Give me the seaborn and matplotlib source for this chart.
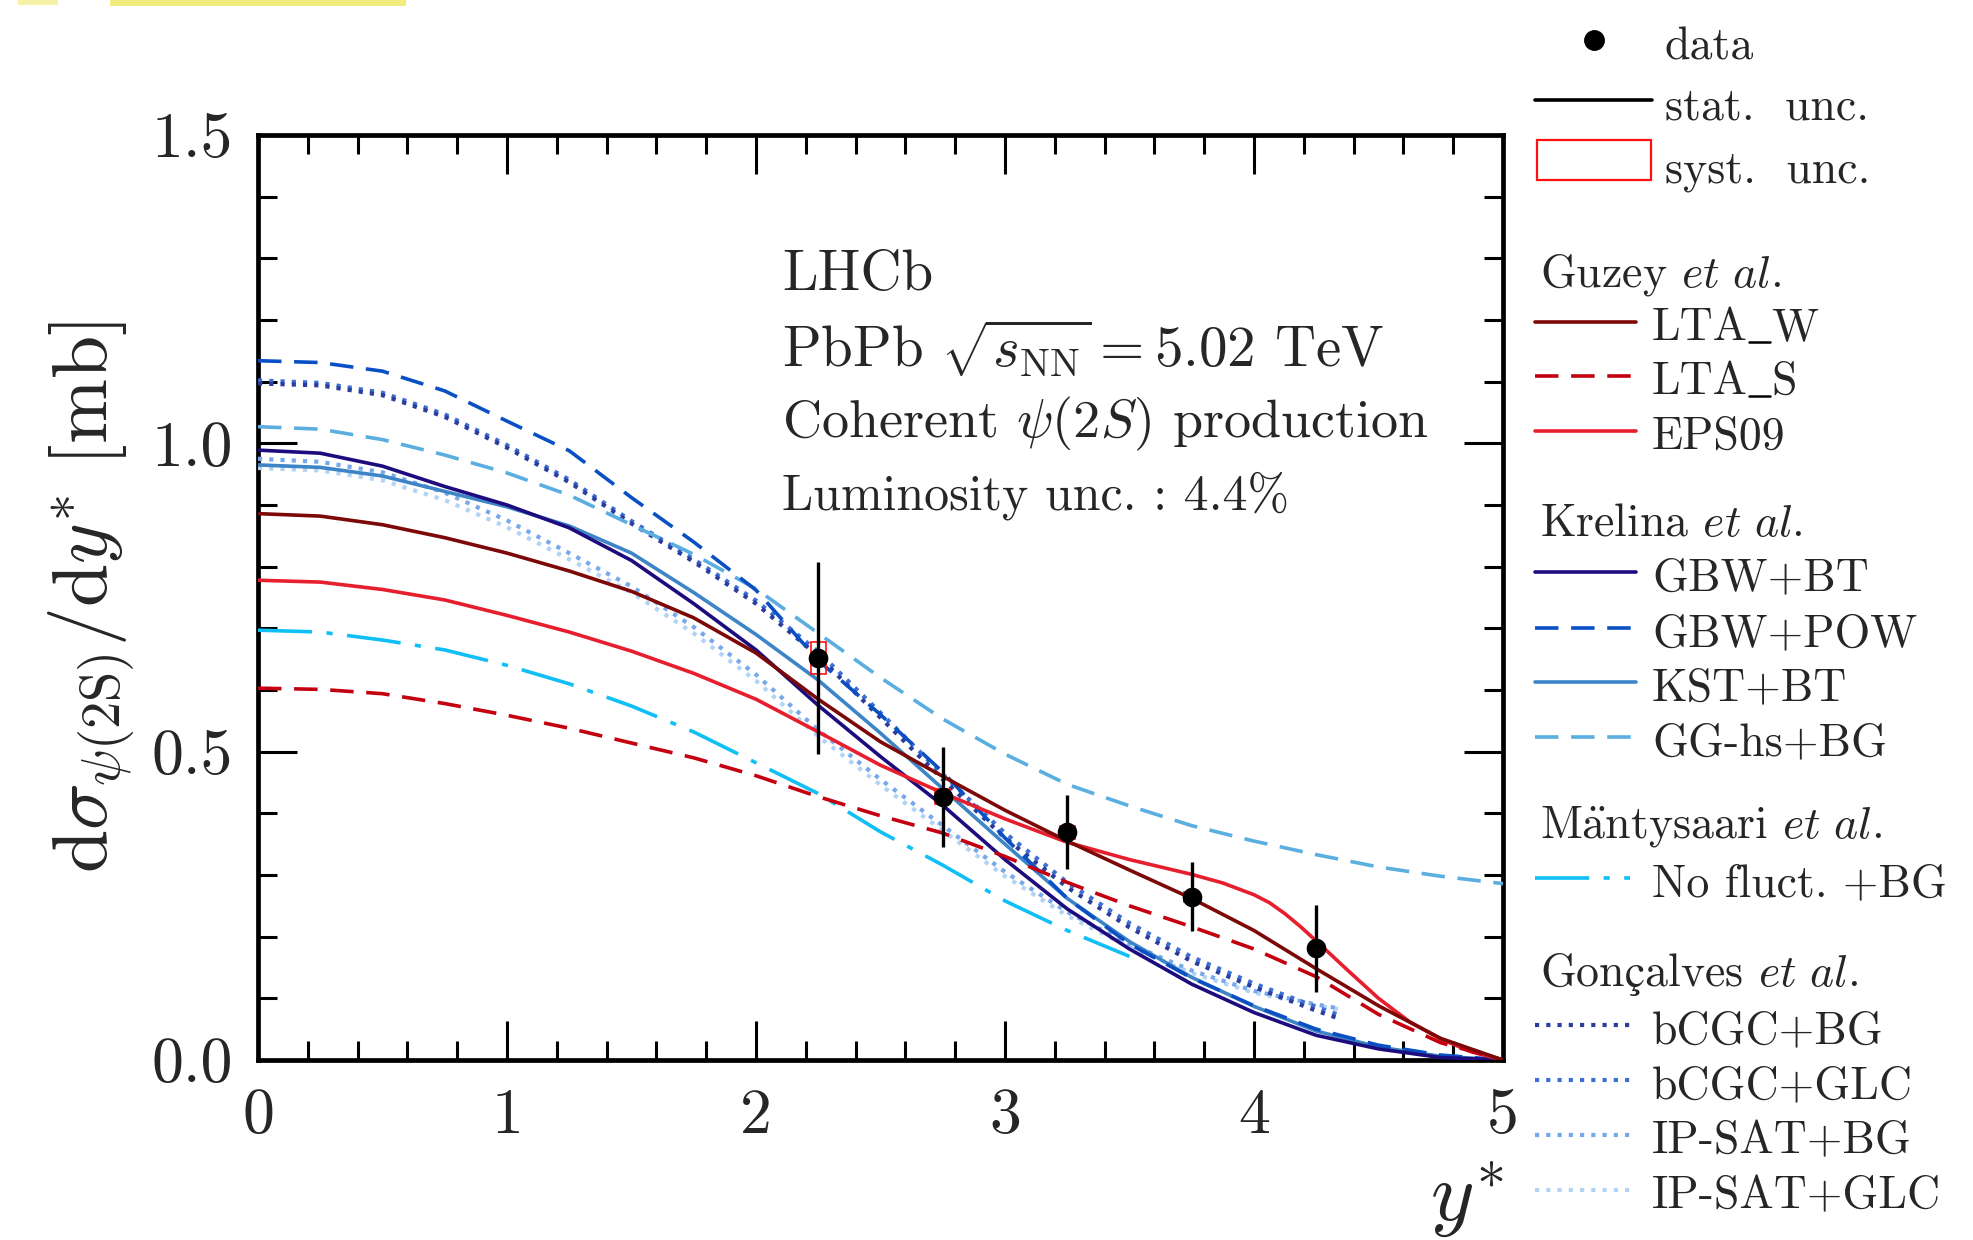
import matplotlib
matplotlib.use("Agg")
import matplotlib.pyplot as plt
from matplotlib.patches import Rectangle
from matplotlib.lines import Line2D
from matplotlib.ticker import MultipleLocator, FormatStrFormatter
import pandas as pd
import seaborn as sns

# ---------------- measured cross-section ----------------
y_bins = [2.25, 2.75, 3.25, 3.75, 4.25]
xsec = [0.652, 0.427, 0.369, 0.265, 0.181]
stat_unc = [0.155, 0.081, 0.060, 0.056, 0.070]
syst_unc = [0.026, 0.012, 0.010, 0.008, 0.006]

# ---------------- model predictions ----------------
grid = [0, 0.25, 0.5, 0.75, 1.0, 1.25, 1.5, 1.75, 2.0, 2.25, 2.5, 2.75,
        3.0, 3.25, 3.5, 3.75, 4.0, 4.25, 4.5, 4.75, 5.0]

# Guzey et al.
lta_w_y = [0.886, 0.882, 0.868, 0.847, 0.822, 0.793, 0.760, 0.717, 0.660, 0.585, 0.516,
           0.460, 0.405, 0.355, 0.308, 0.262, 0.210, 0.148, 0.088, 0.035, 0.0]
lta_s_y = [0.603, 0.601, 0.594, 0.578, 0.559, 0.538, 0.514, 0.490, 0.461, 0.427, 0.396,
           0.368, 0.330, 0.288, 0.250, 0.216, 0.180, 0.135, 0.074, 0.028, 0.0]
eps09_x = [0, 0.25, 0.5, 0.75, 1.0, 1.25, 1.5, 1.75, 2.0, 2.25, 2.5, 2.75, 3.0, 3.25,
           3.5, 3.75, 3.875, 4.0, 4.0625, 4.125, 4.1875, 4.25, 4.375, 4.5, 4.625,
           4.75, 4.875, 5.0]
eps09_y = [0.778, 0.775, 0.763, 0.746, 0.721, 0.694, 0.663, 0.627, 0.585, 0.532, 0.478,
           0.433, 0.391, 0.353, 0.325, 0.301, 0.287, 0.268, 0.255, 0.237, 0.216, 0.193,
           0.146, 0.100, 0.062, 0.034, 0.013, 0.0]

# Krelina et al.
gbw_bt_y = [0.989, 0.984, 0.963, 0.930, 0.900, 0.863, 0.810, 0.740, 0.665, 0.575, 0.492,
            0.413, 0.325, 0.245, 0.180, 0.123, 0.077, 0.040, 0.018, 0.004, 0.0]
gbw_pow_y = [1.134, 1.131, 1.117, 1.085, 1.036, 0.988, 0.912, 0.840, 0.762, 0.648, 0.560,
             0.467, 0.360, 0.262, 0.188, 0.133, 0.088, 0.050, 0.024, 0.008, 0.0]
kst_bt_y = [0.965, 0.961, 0.947, 0.922, 0.897, 0.866, 0.822, 0.758, 0.690, 0.616, 0.530,
            0.440, 0.350, 0.262, 0.192, 0.134, 0.087, 0.047, 0.021, 0.006, 0.0]
gghs_bg_y = [1.027, 1.023, 1.006, 0.981, 0.952, 0.916, 0.868, 0.820, 0.764, 0.692, 0.620,
             0.553, 0.496, 0.447, 0.412, 0.380, 0.355, 0.333, 0.313, 0.298, 0.286]

# Mantysaari et al.
nofluct_x = [0, 0.25, 0.5, 0.75, 1.0, 1.25, 1.5, 1.75, 2.0, 2.25, 2.5, 2.75, 3.0, 3.25, 3.5]
nofluct_y = [0.697, 0.694, 0.681, 0.665, 0.640, 0.610, 0.574, 0.532, 0.482, 0.432, 0.370,
             0.316, 0.258, 0.210, 0.168]

# Goncalves et al.
sat_x = [0, 0.25, 0.5, 0.75, 1.0, 1.25, 1.5, 1.75, 2.0, 2.25, 2.5, 2.75, 3.0, 3.25,
         3.5, 3.75, 4.0, 4.25, 4.35]
bcgc_bg_y = [1.097, 1.094, 1.078, 1.043, 0.993, 0.937, 0.870, 0.808, 0.740, 0.655, 0.555,
             0.455, 0.360, 0.280, 0.215, 0.160, 0.118, 0.080, 0.066]
bcgc_glc_y = [1.102, 1.098, 1.082, 1.047, 0.997, 0.941, 0.874, 0.812, 0.745, 0.662, 0.563,
              0.463, 0.368, 0.288, 0.222, 0.167, 0.124, 0.086, 0.072]
ipsat_bg_y = [0.975, 0.970, 0.953, 0.920, 0.875, 0.822, 0.768, 0.702, 0.625, 0.535, 0.455,
              0.380, 0.305, 0.240, 0.188, 0.145, 0.112, 0.090, 0.083]
ipsat_glc_y = [0.960, 0.956, 0.940, 0.908, 0.864, 0.812, 0.758, 0.692, 0.615, 0.525, 0.446,
               0.372, 0.298, 0.234, 0.183, 0.141, 0.109, 0.088, 0.082]

# ---------------- styles ----------------
DASH = (0, (6.5, 3.5))
DOT = (0, (1.0, 1.7))
DASHDOT = (0, (15, 4, 1.7, 4))

models = [
    ("IP-SAT+GLC", sat_x, ipsat_glc_y, "#b3d3f5", DOT),
    ("IP-SAT+BG", sat_x, ipsat_bg_y, "#78a8ec", DOT),
    ("bCGC+GLC", sat_x, bcgc_glc_y, "#3d6fd4", DOT),
    ("bCGC+BG", sat_x, bcgc_bg_y, "#2b3d9c", DOT),
    ("No fluct. +BG", nofluct_x, nofluct_y, "#10bff5", DASHDOT),
    ("GG-hs+BG", grid, gghs_bg_y, "#5aaee0", DASH),
    ("KST+BT", grid, kst_bt_y, "#3d85c6", "-"),
    ("GBW+POW", grid, gbw_pow_y, "#0a50c4", DASH),
    ("GBW+BT", grid, gbw_bt_y, "#1c0c7e", "-"),
    ("EPS09", eps09_x, eps09_y, "#e61e2e", "-"),
    ("LTA_S", grid, lta_s_y, "#c40010", DASH),
    ("LTA_W", grid, lta_w_y, "#7c0808", "-"),
]
style = {name: (c, ls) for name, _, _, c, ls in models}

# ---------------- figure ----------------
sns.set_theme(style="ticks")
plt.rcParams["font.family"] = ["cmr10", "DejaVu Serif"]
plt.rcParams["mathtext.fontset"] = "cm"
plt.rcParams["axes.unicode_minus"] = False
plt.rcParams["axes.formatter.use_mathtext"] = True

W, H = 1973, 1240
fig = plt.figure(figsize=(W / 100, H / 100), dpi=100)
fig.patch.set_facecolor("white")
ax = fig.add_axes([258 / W, 1 - 1060 / H, 1245 / W, 925 / H])
ax.set_facecolor("white")

LW = 2.6
for name, xs, ys, c, ls in models:
    df = pd.DataFrame({"ystar": xs, "dsig": ys})
    lw = 3.0 if ls == DOT else LW
    sns.lineplot(data=df, x="ystar", y="dsig", ax=ax, color=c, linewidth=lw,
                 linestyle=ls, legend=False, zorder=3)

# systematic boxes, statistical bars and central values
for xb, v, s in zip(y_bins, xsec, syst_unc):
    ax.add_patch(Rectangle((xb - 0.03, v - s), 0.06, 2 * s, fill=False,
                           edgecolor="#ff1010", linewidth=1.2, zorder=4))
ax.errorbar(y_bins, xsec, yerr=stat_unc, fmt="none", ecolor="black",
            elinewidth=2.4, capsize=0, zorder=5)
sns.scatterplot(x=y_bins, y=xsec, ax=ax, color="black", s=200,
                edgecolor="black", linewidth=0, zorder=6, legend=False)

ax.set_xlim(0, 5)
ax.set_ylim(0, 1.5)
ax.xaxis.set_major_locator(MultipleLocator(1))
ax.xaxis.set_minor_locator(MultipleLocator(0.2))
ax.yaxis.set_major_locator(MultipleLocator(0.5))
ax.yaxis.set_minor_locator(MultipleLocator(0.1))
ax.xaxis.set_major_formatter(FormatStrFormatter("%d"))
ax.yaxis.set_major_formatter(FormatStrFormatter("%.1f"))
ax.tick_params(which="both", direction="in", top=True, right=True,
               color="black", width=2.2)
ax.tick_params(which="major", length=28, labelsize=46)
ax.tick_params(which="minor", length=14)
ax.tick_params(axis="x", which="major", pad=20)
ax.tick_params(axis="y", which="major", pad=18)
for sp in ax.spines.values():
    sp.set_linewidth(3.4)
    sp.set_color("black")
    sp.set_visible(True)

ax.set_ylabel(r"$\mathrm{d}\sigma_{\psi(2\mathrm{S})}/\mathrm{d}y^{*}\ [\mathrm{mb}]$",
              fontsize=56)
ax.yaxis.set_label_coords(-0.097, 0.5)
ax.set_xlabel(r"$y^{*}$", fontsize=60, loc="right")
ax.xaxis.set_label_coords(1.0, -0.108)

# experiment annotation
tx = 2.104
ax.text(tx, 1.249, "LHCb", fontsize=41, va="baseline")
ax.text(tx, 1.124, r"PbPb $\sqrt{s_{\mathrm{NN}}}=5.02$ TeV", fontsize=41, va="baseline")
ax.text(tx, 1.009, r"Coherent $\psi(2S)$ production", fontsize=39, va="baseline")
ax.text(tx, 0.893, "Luminosity unc. : 4.4%", fontsize=36, va="baseline")


# ---------------- legend (drawn in figure pixels) ----------------
renderer = fig.canvas.get_renderer()


def fx(x):
    return x / W


def fy(y):
    return 1 - y / H


LFS = 33


def handle(y, color, ls, x0=1535, x1=1636, lw=LW):
    fig.add_artist(Line2D([fx(x0), fx(x1)], [fy(y), fy(y)], transform=fig.transFigure,
                          color=color, linewidth=lw, linestyle=ls))


def put(x, base, s, **kw):
    """Place text with its left edge at pixel x on baseline `base`; return right edge."""
    t = fig.text(fx(x), fy(base), s, fontsize=kw.pop("fontsize", LFS),
                 va="baseline", ha="left", **kw)
    bb = t.get_window_extent(renderer)
    return bb.x1


def underscored(x, base, left, right):
    """TeX-style LTA\\_X label: an underscore rule joining two pieces."""
    xr = put(x, base, left)
    ux0, ux1 = xr + 1, xr + 22
    fig.add_artist(Line2D([fx(ux0), fx(ux1)], [fy(base + 2), fy(base + 2)],
                          transform=fig.transFigure, color="black", linewidth=1.8))
    put(ux1 + 1, base, right)


fig.add_artist(Line2D([fx(1594)], [fy(40)], transform=fig.transFigure, marker="o",
                      markersize=14, color="black", linestyle="none"))
put(1665, 59, "data")
handle(100, "black", "-", 1535, 1652)
put(1665, 120, "stat.  unc.")
fig.add_artist(Rectangle((fx(1537), fy(180)), (1651 - 1537) / W, 40 / H,
                         transform=fig.transFigure, fill=False,
                         edgecolor="#ff1010", linewidth=1.6))
put(1665, 182, "syst.  unc.")

ETAL = r" $\mathit{et\ al.}$"

# Guzey et al.
put(1540, 287, "Guzey" + ETAL)
for ey, name in [(322, "LTA_W"), (376, "LTA_S"), (431, "EPS09")]:
    c, ls = style[name]
    handle(ey, c, ls)
    if "_" in name:
        a, b = name.split("_")
        underscored(1652, ey + 18, a, b)
    else:
        put(1652, ey + 18, name)

# Krelina et al.
put(1540, 536, "Krelina" + ETAL)
for ey, name in [(572, "GBW+BT"), (628, "GBW+POW"), (682, "KST+BT"), (737, "GG-hs+BG")]:
    c, ls = style[name]
    handle(ey, c, ls)
    put(1652, ey + 18, name)

# Mäntysaari et al.
put(1540, 839, r"M$\ddot{\mathrm{a}}$ntysaari" + ETAL)
c, ls = style["No fluct. +BG"]
handle(878, c, ls, 1535, 1630)
put(1652, 896, "No fluct. +BG")

# Gonçalves et al.
put(1540, 986, r"Gon$\mathrm{ç}$alves" + ETAL)
for ey, name in [(1025, "bCGC+BG"), (1080, "bCGC+GLC"), (1135, "IP-SAT+BG"),
                 (1190, "IP-SAT+GLC")]:
    c, ls = style[name]
    handle(ey, c, ls, 1535, 1630, lw=3.0)
    put(1652, ey + 18, name)

# faint highlighter trace along the top edge
fig.add_artist(Rectangle((fx(18), fy(5)), 40 / W, 5 / H, transform=fig.transFigure,
                         color="#f6f3a8", linewidth=0))
fig.add_artist(Rectangle((fx(110), fy(6)), 296 / W, 6 / H, transform=fig.transFigure,
                         color="#f1ec7c", linewidth=0))

fig.savefig("out.png", dpi=100, facecolor="white")
